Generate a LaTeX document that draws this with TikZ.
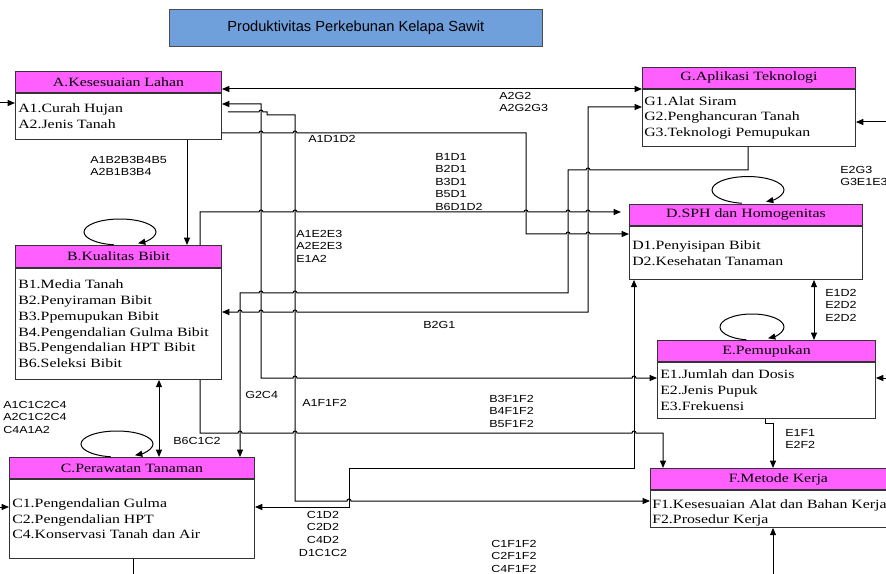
\documentclass[tikz,border=0pt]{standalone}
\usepackage{fontspec}
\setmainfont{Liberation Serif}[FakeStretch=1.25]
\newfontfamily\lblfont{Liberation Sans}[FakeStretch=1.22]
\newfontfamily\ttlfont{Liberation Sans}
\usetikzlibrary{positioning,calc,arrows.meta}
\definecolor{hdrpink}{RGB}{255,95,255}
\definecolor{ttlblue}{RGB}{112,160,220}
\newcommand{\hop}[2]{-- ([xshift=-1.5pt]#1,#2) arc[start angle=180,end angle=0,radius=1.5pt]}
\tikzset{
  ttlbox/.style={draw=black!70, fill=ttlblue, anchor=north west, inner sep=0pt,
    minimum width=279.75pt, minimum height=27.75pt, font=\ttlfont\fontsize{11}{12}\selectfont},
  hdr/.style={draw=black!80, fill=hdrpink, line width=0.7pt, anchor=north west, inner sep=0pt,
    minimum height=15.75pt, font=\fontsize{9.5}{11.8}\selectfont},
  bdy/.style={draw=black!80, fill=white, line width=0.7pt, inner sep=0pt},
  txt/.style={inner sep=0pt, align=left, font=\fontsize{9.5}{11.8}\selectfont},
  lbl/.style={inner sep=0pt, anchor=north west, align=left, font=\lblfont\fontsize{7.7}{9.4}\selectfont},
  conn/.style={draw=black, line width=0.75pt},
  arr/.style={conn, -{Triangle[length=5.5pt,width=4.5pt]}},
  arrs/.style={conn, {Triangle[length=5.5pt,width=4.5pt]}-},
  arrb/.style={conn, {Triangle[length=5.5pt,width=4.5pt]}-{Triangle[length=5.5pt,width=4.5pt]}},
}

\begin{document}
\begin{tikzpicture}[x=0.75pt,y=-0.75pt]
   \useasboundingbox (0,0) rectangle (886,574);
   \clip (0,0) rectangle (886,574);

   \node[ttlbox] (ttl) at (169,9) {Produktivitas Perkebunan Kelapa Sawit};

   \node[hdr, minimum width=154.5pt] (ah) at (15,71) {A.Kesesuaian Lahan};
   \node[bdy, minimum width=154.5pt, minimum height=34.5pt, below=0pt of ah] (ab) {};
   \node[txt, right=2.25pt of ab.west] (abt) {A1.Curah Hujan\\A2.Jenis Tanah};

   \node[hdr, minimum width=154.5pt, minimum height=16.5pt] (bh) at (15,245) {B.Kualitas Bibit};
   \node[bdy, minimum width=154.5pt, minimum height=83.25pt, below=0pt of bh] (bb) {};
   \node[txt, right=2.25pt of bb.west] (bbt) {B1.Media Tanah\\B2.Penyiraman Bibit\\B3.Ppemupukan Bibit\\B4.Pengendalian Gulma Bibit\\B5.Pengendalian HPT Bibit\\B6.Seleksi Bibit};

   \node[hdr, minimum width=183.75pt] (ch) at (9,457) {C.Perawatan Tanaman};
   \node[bdy, minimum width=183.75pt, minimum height=59.25pt, below=0pt of ch] (cb) {};
   \node[txt, right=2.25pt of cb.west] (cbt) {C1.Pengendalian Gulma\\C2.Pengendalian HPT\\C4.Konservasi Tanah dan Air};

   \node[hdr, minimum width=159.75pt] (gh) at (642,67) {G.Aplikasi Teknologi};
   \node[bdy, minimum width=159.75pt, minimum height=42.75pt, below=0pt of gh] (gb) {};
   \node[txt, right=1.5pt of gb.west] (gbt) {G1.Alat Siram\\G2.Penghancuran Tanah\\G3.Teknologi Pemupukan};

   \node[hdr, minimum width=174.75pt] (dh) at (629,204) {D.SPH dan Homogenitas};
   \node[bdy, minimum width=174.75pt, minimum height=39.75pt, below=0pt of dh] (db) {};
   \node[txt, right=2.25pt of db.west] (dbt) {D1.Penyisipan Bibit\\D2.Kesehatan Tanaman};

   \node[hdr, minimum width=163.5pt] (eh) at (657,340) {E.Pemupukan};
   \node[bdy, minimum width=163.5pt, minimum height=42pt, below=0pt of eh] (eb) {};
   \node[txt, right=2.25pt of eb.west] (ebt) {E1.Jumlah dan Dosis\\E2.Jenis Pupuk\\E3.Frekuensi};

   \node[hdr, minimum width=192pt] (fh) at (650,468) {F.Metode Kerja};
   \node[bdy, minimum width=192pt, minimum height=27.75pt, below=0pt of fh] (fb) {};
   \node[txt, right=1.5pt of fb.west, yshift=-3pt] (fbt) {F1.Kesesuaian Alat dan Bahan Kerja\\F2.Prosedur Kerja};

   \draw[arr] (120,232) ++(-100:27pt and 9.75pt) arc[start angle=-100,end angle=-420,x radius=27pt,y radius=9.75pt];
   \draw[arr] (117,444) ++(-100:27pt and 9.75pt) arc[start angle=-100,end angle=-420,x radius=27pt,y radius=9.75pt];
   \draw[arr] (748,190) ++(-100:27pt and 10.1pt) arc[start angle=-100,end angle=-420,x radius=27pt,y radius=10.1pt];
   \draw[arr] (752,327) ++(-100:24pt and 9.75pt) arc[start angle=-100,end angle=-420,x radius=24pt,y radius=9.75pt];

   \draw[arrb] (ah.east |- 0,89) -- (gb.west |- 0,89);
   \draw[arrb] (ab.east |- 0,104) -- (261,104) -- (261,378) \hop{295}{378} \hop{634}{378} -- (eb.west |- 0,378);
   \draw[arr] ([xshift=4.5pt]ab.east |- 0,112) \hop{261}{112} -- (267,112) -- (267,115) -- (295,115) -- (295,501) \hop{349}{501} -- (fb.west |- 0,501);
   \draw[arr] (ab.east |- 0,133) \hop{261}{133} \hop{295}{133} -- (526,133) -- (526,234) \hop{568}{234} \hop{588}{234} -- (db.west |- 0,234);
   \draw[arr] (187,0 |- ab.south) -- (187,0 |- bh.north);
   \draw[arr] (200,0 |- bh.north) -- (200,212) \hop{261}{212} \hop{295}{212} \hop{526}{212} \hop{568}{212} \hop{588}{212} -- ([xshift=-6pt]dh.west |- 0,212);
   \draw[arrs] (240,0 |- ch.north) -- (240,293) \hop{261}{293} \hop{295}{293} -- (568,293) -- (568,170) \hop{588}{170} -- (748,170) -- (748,0 |- gb.south);
   \draw[arrb] (bb.east |- 0,312) \hop{240}{312} \hop{261}{312} \hop{295}{312} -- (588,312) -- (588,107) -- (gb.west |- 0,107);
   \draw[arr] (200,0 |- bb.south) -- (200,433) \hop{240}{433} \hop{295}{433} \hop{634}{433} -- (663,433) -- (663,0 |- fh.north);
   \draw[arrb] (159,0 |- bb.south) -- (159,0 |- ch.north);
   \draw[arrb] (cb.east |- 0,507) -- (349,507) -- (349,468) -- (634,468) -- (634,0 |- db.south);
   \draw[arr] (133,0 |- cb.south) -- (133,590) -- (773,590) -- (773,0 |- fb.south);
   \draw[arr] (765,0 |- eb.south) -- (765,423) -- (773,423) -- (773,0 |- fh.north);
   \draw[arrb] (814,0 |- db.south) -- (814,0 |- eh.north);
   \draw[arrb] (eb.east |- 0,378) -- (900,378) -- (900,122) -- (gb.east |- 0,122);
   \draw[arrb] (ab.west |- 0,103) -- (-10,103) -- (-10,507) -- (cb.west |- 0,507);

   \node[lbl] (lab) at (90,156) {A1B2B3B4B5\\A2B1B3B4};
   \node[lbl] (lad) at (308,135) {A1D1D2};
   \node[lbl] (lag) at (499,92) {A2G2\\A2G2G3};
   \node[lbl] (lbd) at (435,153) {B1D1\\B2D1\\B3D1\\B5D1\\B6D1D2};
   \node[lbl] (lae) at (296,230) {A1E2E3\\A2E2E3\\E1A2};
   \node[lbl] (lbg) at (423,321) {B2G1};
   \node[lbl] (laf) at (302,399) {A1F1F2};
   \node[lbl] (lbf) at (489,395) {B3F1F2\\B4F1F2\\B5F1F2};
   \node[lbl] (lgc) at (245,391) {G2C4};
   \node[lbl] (lac) at (3,401) {A1C1C2C4\\A2C1C2C4\\C4A1A2};
   \node[lbl] (lbc) at (173,437) {B6C1C2};
   \node[lbl, anchor=north, align=center] (lcd) at (323,511) {C1D2\\C2D2\\C4D2\\D1C1C2};
   \node[lbl] (lcf) at (491,540) {C1F1F2\\C2F1F2\\C4F1F2};
   \node[lbl] (leg) at (840,166) {E2G3\\G3E1E3};
   \node[lbl] (led) at (825,289) {E1D2\\E2D2\\E2D2};
   \node[lbl] (lef) at (785,429) {E1F1\\E2F2};
\end{tikzpicture}
\end{document}
